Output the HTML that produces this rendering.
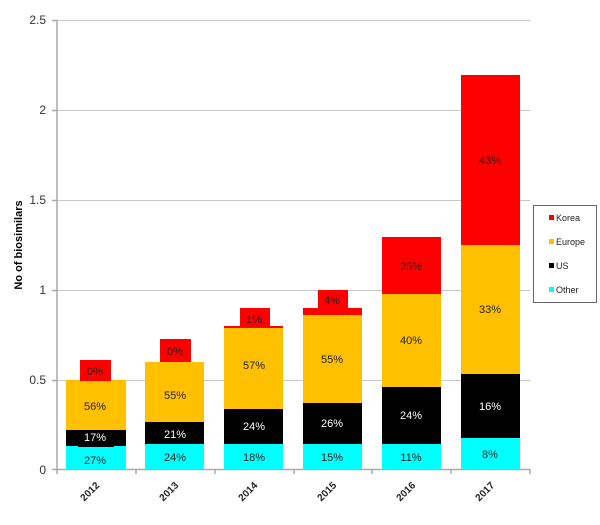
<!DOCTYPE html>
<html><head><style>body{margin:0;background:#fff}svg text{font-family:"Liberation Sans",sans-serif}</style></head><body>
<svg width="600" height="520" xmlns="http://www.w3.org/2000/svg">
<g stroke="#c8c8c8" stroke-width="1">
<line x1="57" y1="20.5" x2="530" y2="20.5"/><line x1="57" y1="110.5" x2="530" y2="110.5"/><line x1="57" y1="200.5" x2="530" y2="200.5"/><line x1="57" y1="290.5" x2="530" y2="290.5"/><line x1="57" y1="380.5" x2="530" y2="380.5"/>
</g>
<g stroke="#aaa" stroke-width="1.5"><line x1="57" y1="20" x2="57" y2="474"/><line x1="52" y1="469.5" x2="530" y2="469.5"/>
<line x1="136" y1="469" x2="136" y2="474"/><line x1="215" y1="469" x2="215" y2="474"/><line x1="294" y1="469" x2="294" y2="474"/><line x1="372" y1="469" x2="372" y2="474"/><line x1="451" y1="469" x2="451" y2="474"/><line x1="530" y1="469" x2="530" y2="474"/>
<line x1="52" y1="20.5" x2="57" y2="20.5"/><line x1="52" y1="110.5" x2="57" y2="110.5"/><line x1="52" y1="200.5" x2="57" y2="200.5"/><line x1="52" y1="290.5" x2="57" y2="290.5"/><line x1="52" y1="380.5" x2="57" y2="380.5"/></g>
<g font-size="12" fill="#333" text-anchor="end"><text x="46" y="474">0</text><text x="46" y="384">0.5</text><text x="46" y="294">1</text><text x="46" y="204">1.5</text><text x="46" y="114">2</text><text x="46" y="24">2.5</text></g>
<text transform="translate(22,245) rotate(-90)" font-size="11" font-weight="bold" text-anchor="middle">No of biosimilars</text>
<!-- 2012 -->
<rect x="66" y="446" width="60" height="23" fill="#00ffff"/><rect x="66" y="430" width="60" height="16" fill="#000"/><rect x="78" y="426" width="36" height="21" fill="#000"/><rect x="66" y="380" width="60" height="50" fill="#ffc000"/><rect x="80" y="360" width="31" height="21" fill="#f00"/>
<!-- 2013 -->
<rect x="145" y="444" width="59" height="25" fill="#00ffff"/><rect x="145" y="422" width="59" height="22" fill="#000"/><rect x="145" y="362" width="59" height="60" fill="#ffc000"/><rect x="160" y="339" width="31" height="23" fill="#f00"/>
<!-- 2014 -->
<rect x="224" y="444" width="59" height="25" fill="#00ffff"/><rect x="224" y="409" width="59" height="35" fill="#000"/><rect x="224" y="328" width="59" height="81" fill="#ffc000"/><rect x="224" y="326" width="59" height="2" fill="#f00"/><rect x="240" y="308" width="30" height="20" fill="#f00"/>
<!-- 2015 -->
<rect x="303" y="444" width="59" height="25" fill="#00ffff"/><rect x="303" y="403" width="59" height="41" fill="#000"/><rect x="303" y="315" width="59" height="88" fill="#ffc000"/><rect x="303" y="308" width="59" height="7" fill="#f00"/><rect x="318" y="290" width="30" height="18" fill="#f00"/>
<!-- 2016 -->
<rect x="382" y="444" width="59" height="25" fill="#00ffff"/><rect x="382" y="387" width="59" height="57" fill="#000"/><rect x="382" y="294" width="59" height="93" fill="#ffc000"/><rect x="382" y="237" width="59" height="57" fill="#f00"/>
<!-- 2017 -->
<rect x="461" y="438" width="59" height="31" fill="#00ffff"/><rect x="461" y="374" width="59" height="64" fill="#000"/><rect x="461" y="245" width="59" height="129" fill="#ffc000"/><rect x="461" y="75" width="59" height="170" fill="#f00"/>
<g font-size="11" text-anchor="middle" fill="#222">
<text x="95" y="464">27%</text><text x="95" y="441" fill="#fff">17%</text><text x="95" y="410">56%</text><text x="95" y="375">0%</text>
<text x="175" y="461">24%</text><text x="175" y="438" fill="#fff">21%</text><text x="175" y="399">55%</text><text x="175" y="355">0%</text>
<text x="254" y="461">18%</text><text x="254" y="430" fill="#fff">24%</text><text x="254" y="369">57%</text><text x="254" y="323">1%</text>
<text x="332" y="461">15%</text><text x="332" y="427" fill="#fff">26%</text><text x="332" y="363">55%</text><text x="332" y="304">4%</text>
<text x="411" y="461">11%</text><text x="411" y="419" fill="#fff">24%</text><text x="411" y="344">40%</text><text x="411" y="270">25%</text>
<text x="490" y="458">8%</text><text x="490" y="410" fill="#fff">16%</text><text x="490" y="313">33%</text><text x="490" y="164">43%</text>
</g>
<g font-size="10" font-weight="bold" text-anchor="end" fill="#222">
<text transform="translate(100,486) rotate(-45)">2012</text><text transform="translate(179,486) rotate(-45)">2013</text><text transform="translate(258,486) rotate(-45)">2014</text><text transform="translate(337,486) rotate(-45)">2015</text><text transform="translate(416,486) rotate(-45)">2016</text><text transform="translate(495,486) rotate(-45)">2017</text>
</g>
<rect x="533.5" y="205.5" width="63" height="97" fill="#fff" stroke="#666"/>
<g font-size="9" fill="#222">
<rect x="549" y="215" width="5" height="5" fill="#f00"/><text x="556" y="221">Korea</text>
<rect x="549" y="239" width="5" height="5" fill="#ffc000"/><text x="556" y="245">Europe</text>
<rect x="549" y="263" width="5" height="5" fill="#000"/><text x="556" y="269">US</text>
<rect x="549" y="287" width="5" height="5" fill="#00ffff"/><text x="556" y="293">Other</text>
</g>
</svg>
</body></html>
